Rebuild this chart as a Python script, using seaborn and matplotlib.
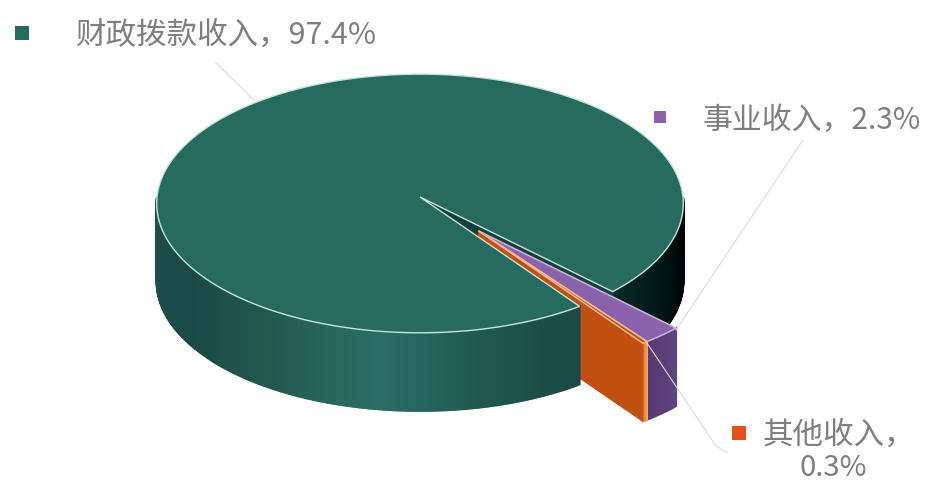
import numpy as np
import matplotlib
matplotlib.use('Agg')
import matplotlib.pyplot as plt
import seaborn as sns
from matplotlib.patches import Polygon

sns.set_theme(style='white')
plt.rcParams['font.family'] = ['Noto Sans CJK SC', 'DejaVu Sans']

# data
names = ['财政拨款收入', '事业收入', '其他收入']
shares = [97.4, 2.3, 0.3]

# look of the pie (pixels of the 929x483 picture)
start_angle = -54.4
cx, cy = 420, 197
rx, ry = 263, 129
persp = 0.05
depth = 78
explode = 0.34

top_colors = ['#276a60', '#8a63ac', '#c24f12']
wall_colors = ['#1f5850', '#5b4179', '#c24f12']
edge_colors = ['#c4e6dd', '#c9b6dc', '#f6b98d']
text_grey = '#7f7f7f'
line_grey = '#d9d9d9'


def project(u, v, off=(0, 0), z=0):
    u = np.asarray(u) + off[0]
    v = np.asarray(v) + off[1]
    k = 1 - persp * v
    return cx + rx * u / k, cy + ry * v / k + z


def arc(a0, a1, n=200):
    # screen y points down, so the sign of the sine is flipped
    t = np.radians(np.linspace(a0, a1, n))
    return np.cos(t), -np.sin(t)


def wedge(a0, a1, off=(0, 0)):
    u, v = arc(a0, a1)
    x, y = project(np.r_[0, u], np.r_[0, v], off)
    return np.c_[x, y]


def wall(ax, a0, a1, palette, off=(0, 0)):
    n = len(palette)
    u, v = arc(a0, a1, n + 1)
    x, y = project(u, v, off)
    for i in range(n):
        pts = [(x[i], y[i]), (x[i + 1], y[i + 1]), (x[i + 1], y[i + 1] + depth), (x[i], y[i] + depth)]
        ax.add_patch(Polygon(pts, closed=True, facecolor=palette[i], edgecolor=palette[i], lw=1.5))


def radial_wall(ax, angle, color, off=(0, 0)):
    u, v = arc(angle, angle, 1)
    x0, y0 = project(0, 0, off)
    x1, y1 = project(u[0], v[0], off)
    pts = [(x0, y0), (x1, y1), (x1, y1 + depth), (x0, y0 + depth)]
    ax.add_patch(Polygon(pts, closed=True, facecolor=color, edgecolor=color, lw=1))


# slice angles, clockwise from the start
sweeps = np.array(shares) / sum(shares) * 360
ends = start_angle - np.cumsum(sweeps)
starts = np.r_[start_angle, ends[:-1]]
small_mid = np.radians((starts[1] + ends[2]) / 2)
off_small = (explode * np.cos(small_mid), -explode * np.sin(small_mid))

fig = plt.figure(figsize=(9.29, 4.83), dpi=100)
ax = fig.add_axes([0, 0, 1, 1])
ax.set_xlim(0, 929)
ax.set_ylim(483, 0)
ax.axis('off')

# back part of the main side wall, right of the gap
dark_wall = sns.blend_palette(['#000000', '#010807', '#031a18', '#082a27'], 50)
wall(ax, 0, ends[0] + 360, dark_wall)
radial_wall(ax, ends[0] + 360, '#173f3b')

# exploded slices: walls
wall(ax, starts[1], ends[1], sns.blend_palette(['#5f457d', '#553b72'], 12), off_small)
wall(ax, starts[2], ends[2], sns.blend_palette(['#f2a56e', '#e7873f'], 4), off_small)
radial_wall(ax, ends[2], wall_colors[2], off_small)

# front part of the main side wall, lightest near the middle
front_wall = (sns.blend_palette(['#1b4946', '#1f5750', '#2b6e65'], 70)
              + sns.blend_palette(['#2b6e65', '#22594f', '#1a4a47'], 80)
              + sns.blend_palette(['#1a4a47', '#1e4f4c'], 50))
wall(ax, start_angle, -180, front_wall)

# top faces
ax.add_patch(Polygon(wedge(starts[0], ends[0]), closed=True, facecolor=top_colors[0],
                     edgecolor=edge_colors[0], lw=1))
for i in (1, 2):
    ax.add_patch(Polygon(wedge(starts[i], ends[i], off_small), closed=True, facecolor=top_colors[i],
                         edgecolor=edge_colors[i], lw=1.1))

# leader lines
ax.plot([215, 254], [62, 100], color=line_grey, lw=0.8)
ax.plot([803, 676], [140, 330], color=line_grey, lw=0.8)
ax.plot([647, 716, 728], [343, 446, 453], color=line_grey, lw=0.8)

# labels
ax.scatter([22], [33], marker='s', s=115, color=top_colors[0], linewidths=0)
ax.scatter([660], [117], marker='s', s=85, color=top_colors[1], linewidths=0)
ax.scatter([739], [433], marker='s', s=110, color='#e2531c', linewidths=0)

ax.text(76, 35, f'{names[0]}，{shares[0]}%', color=text_grey, fontsize=22, va='center', ha='left')
ax.text(703, 120, f'{names[1]}，{shares[1]}%', color=text_grey, fontsize=21.5, va='center', ha='left')
ax.text(763, 435, f'{names[2]}，', color=text_grey, fontsize=22, va='center', ha='left')
ax.text(833, 468, f'{shares[2]}%', color=text_grey, fontsize=21, va='center', ha='center')

fig.savefig('out.png', dpi=100)
